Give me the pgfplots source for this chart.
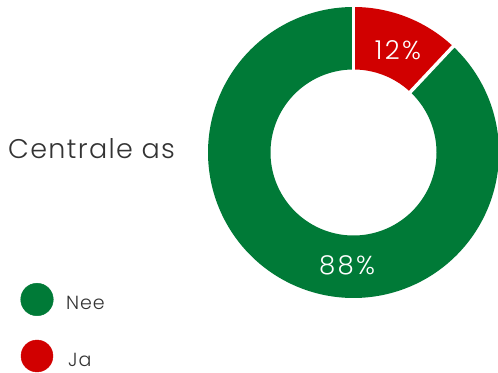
\documentclass[border=0pt]{standalone}
\usepackage{pgfplots}
\pgfplotsset{compat=1.18}
\usepackage{pgfplotstable}
\usepackage{fontspec}
\setmainfont{Poppins}[UprightFont=* Light,LetterSpace=5]
\newfontfamily\numfont{Poppins}[UprightFont=* Light,LetterSpace=9]
\definecolor{cgreen}{HTML}{007A37}
\definecolor{cred}{HTML}{D10000}
\definecolor{ctext}{HTML}{333333}
\pgfplotstableread{
label value
Nee 88
Ja 12
}\donutdata
\pgfplotstablegetelem{0}{value}\of\donutdata \let\vNee\pgfplotsretval
\pgfplotstablegetelem{1}{value}\of\donutdata \let\vJa\pgfplotsretval
\begin{document}
\begin{tikzpicture}
\pgfmathsetmacro{\aJa}{90-3.6*\vJa}
\pgfmathsetmacro{\aNee}{\aJa-3.6*\vNee}
\def\cx{353.5}\def\cy{220.5}\def\rm{114.25}
\begin{axis}[width=498bp,height=373bp,scale only axis,
  xmin=0,xmax=498,ymin=0,ymax=373,axis lines=none,clip=true]
\coordinate (SW) at (rel axis cs:0,0);
\coordinate (NE) at (rel axis cs:1,1);
% ring segments
\addplot[cred,line width=62.5bp,line cap=butt,domain=90:\aJa,samples=120,variable=\t]
  ({\cx+\rm*cos(\t)},{\cy+\rm*sin(\t)});
\addplot[cgreen,line width=62.5bp,line cap=butt,domain=\aJa:\aNee,samples=300,variable=\t]
  ({\cx+\rm*cos(\t)},{\cy+\rm*sin(\t)});
% separators
\addplot[white,line width=3.5bp,domain=80:150,samples=2,variable=\r]
  ({\cx+\r*cos(90)},{\cy+\r*sin(90)});
\addplot[white,line width=3.5bp,domain=80:150,samples=2,variable=\r]
  ({\cx+\r*cos(\aJa)},{\cy+\r*sin(\aJa)});
% legend markers
\addplot[only marks,mark=*,mark size=16.3bp,cgreen,mark options={draw=cgreen,fill=cgreen}] coordinates {(37,73.5)};
\addplot[only marks,mark=*,mark size=16bp,cred,mark options={draw=cred,fill=cred}] coordinates {(37,17)};
\node[anchor=base west,inner sep=0,text=ctext,font=\fontsize{27bp}{30bp}\selectfont] at (axis cs:8,214) {Centrale as};
\node[anchor=base west,inner sep=0,text=ctext,font=\fontsize{19bp}{22bp}\selectfont] at (axis cs:66,63) {Nee};
\node[anchor=base west,inner sep=0,text=ctext,font=\fontsize{19bp}{22bp}\selectfont] at (axis cs:68,6.5) {Ja};
\node[anchor=base,inner sep=0,text=white,font=\numfont\fontsize{26bp}{30bp}\selectfont] at (axis cs:398,313) {\vJa\%};
\node[anchor=base,inner sep=0,text=white,font=\numfont\fontsize{26bp}{30bp}\selectfont] at (axis cs:347,98) {\vNee\%};
\end{axis}
\pgfresetboundingbox
\path[use as bounding box] (SW) rectangle (NE);
\end{tikzpicture}
\end{document}
